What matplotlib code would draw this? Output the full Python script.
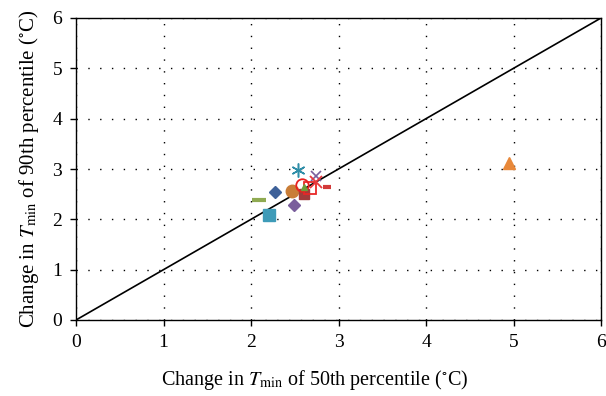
import matplotlib
matplotlib.use("Agg")
import matplotlib.pyplot as plt

plt.rcParams['font.family'] = ['Liberation Serif', 'DejaVu Serif']
plt.rcParams['mathtext.fontset'] = 'stix'

# data (x: change of 50th percentile, y: change of 90th percentile)
names = ["blue_diamond", "orange_circle", "teal_square", "purple_diamond", "olive_dash",
         "darkred_square", "teal_star", "purple_x", "red_x", "red_dash",
         "red_circle", "green_triangle", "red_square", "orange_triangle"]
x_vals = [2.27, 2.47, 2.20, 2.49, 2.09, 2.60, 2.54, 2.74, 2.74, 2.87, 2.58, 2.61, 2.67, 4.95]
y_vals = [2.54, 2.56, 2.09, 2.28, 2.38, 2.50, 2.98, 2.86, 2.74, 2.64, 2.68, 2.64, 2.62, 3.12]
ticks = [0, 1, 2, 3, 4, 5, 6]

styles = {
    "blue_diamond": dict(marker='D', color='#3E6199', ms=6, mfc='#3E6199'),
    "orange_circle": dict(marker='o', color='#C97D37', ms=9, mfc='#C97D37'),
    "teal_square": dict(marker='s', color='#3E9BB8', ms=8, mfc='#3E9BB8'),
    "purple_diamond": dict(marker='D', color='#7A5E9C', ms=6, mfc='#7A5E9C'),
    "olive_dash": dict(marker='_', color='#8FAA52', ms=10, mew=3),
    "darkred_square": dict(marker='s', color='#A23B3B', ms=7, mfc='#A23B3B'),
    "teal_star": dict(marker=(6, 2, 0), color='#2F8EA8', ms=10, mew=1.1),
    "purple_x": dict(marker='x', color='#7A5E9C', ms=7, mew=1.2),
    "red_x": dict(marker='x', color='#E8383D', ms=8, mew=1.3),
    "red_dash": dict(marker='_', color='#D23A3A', ms=6, mew=3),
    "red_circle": dict(marker='o', color='#E82020', ms=9, mfc='none', mew=1.3),
    "green_triangle": dict(marker='^', color='#6E9E3A', ms=5, mfc='#6E9E3A'),
    "red_square": dict(marker='s', color='#E82828', ms=8, mfc='none', mew=1.3),
    "orange_triangle": dict(marker='^', color='#E8883A', ms=9, mfc='#E8883A'),
}

fig = plt.figure(figsize=(6.06, 3.96), dpi=100)
ax = fig.add_axes([76/606, 76/396, 525/606, 302/396])

ax.plot([0, 6], [0, 6], color='black', lw=1.2, zorder=2)

order = ["blue_diamond", "orange_circle", "teal_square", "purple_diamond", "olive_dash",
         "darkred_square", "teal_star", "purple_x", "red_square", "red_circle",
         "green_triangle", "red_x", "red_dash", "orange_triangle"]
for n in order:
    i = names.index(n)
    st = dict(styles[n])
    ax.plot([x_vals[i]], [y_vals[i]], linestyle='none', zorder=3, **st)

ax.set_xlim(0, 6)
ax.set_ylim(0, 6)
ax.set_xticks(ticks)
ax.set_yticks(ticks)
ax.grid(True, color='black', linestyle=(0, (1, 7.5)), linewidth=1.0)
ax.tick_params(direction='out', length=4, width=1, labelsize=14, colors='black', pad=6)
for s in ax.spines.values():
    s.set_linewidth(1)
    s.set_color('black')

ax.set_xlabel(r'Change in $T_{\mathrm{min}}$ of 50th percentile ($^{\circ}$C)', fontsize=14.5)
ax.set_ylabel(r'Change in $T_{\mathrm{min}}$ of 90th percentile ($^{\circ}$C)', fontsize=15, labelpad=8)
ax.xaxis.set_label_coords(0.455, -0.16)

fig.savefig('out.png', dpi=100)
